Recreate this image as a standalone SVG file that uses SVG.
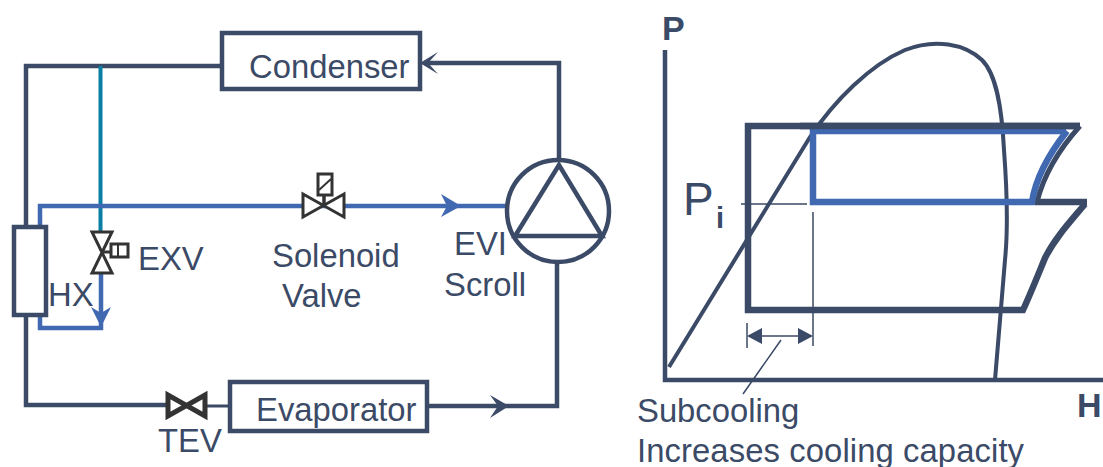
<svg xmlns="http://www.w3.org/2000/svg" width="1103" height="467" viewBox="0 0 1103 467">
<style>
text{font-family:"Liberation Sans",Arial,sans-serif;font-size:32.8px;fill:#3b4a66}
.b{font-weight:bold;font-size:34px}
.box{fill:#fff;stroke:#3b4a66;stroke-width:4.5}
.pipe{fill:none;stroke:#3b4a66;stroke-width:4.5}
.blue{fill:none;stroke:#4169b2;stroke-width:4.5}
.teal{fill:none;stroke:#0a7fa6;stroke-width:4}
.valve{fill:#fff;stroke:#333;stroke-width:3}
.thin{fill:none;stroke:#3b4a66;stroke-width:1.5}
.thick{fill:none;stroke:#3b4a66;stroke-width:6.500}
.bl6{fill:none;stroke:#4169b2;stroke-width:6.500}
.dome{fill:none;stroke:#3b4a66;stroke-width:4}
.hd{fill:#3b4a66}
.hb{fill:#4169b2}
</style>
<g id="connectors">
<path class="pipe" d="M222 66H26V405H168"/>
<path class="pipe" d="M205 406H230" style="stroke-width:3"/>
<path class="pipe" d="M427 406H557V262"/>
<path class="pipe" d="M559 165V63H424"/>
<path class="hd" d="M420 63L438 52L428 63L438 74Z"/>
<path class="hd" d="M509 406L490 395L498 406L490 418Z"/>
<path class="teal" d="M100.500 66V231"/>
<path class="blue" d="M506 206H40V226"/>
<path class="hb" d="M461 206L441 194L447 206L441 217Z"/>
<path class="blue" d="M40 314V328H101V273"/>
<path class="hb" d="M101 327L91 307L101 313L111 307Z"/>
</g>
<g id="condenser"><rect class="box" x="222" y="33" width="198" height="56"/><text x="249" y="78">Condenser</text></g>
<g id="evaporator"><rect class="box" x="230" y="382" width="197" height="49"/><text x="256" y="421">Evaporator</text></g>
<g id="tev"><path class="valve" style="stroke-width:5" d="M168 395V416L205 395V416Z"/><text x="158" y="452">TEV</text></g>
<g id="hx"><rect class="box" x="14" y="227" width="32" height="88"/><text x="48" y="306">HX</text></g>
<g id="exv"><path class="valve" d="M92 232H112L92 273H112Z"/><path class="pipe" style="stroke:#333;stroke-width:3" d="M102 252H111"/><rect class="valve" x="111" y="244" width="17" height="13"/><path class="pipe" style="stroke:#333;stroke-width:2" d="M118 245V256"/><text x="138" y="270">EXV</text></g>
<g id="solenoid"><path class="valve" d="M303 194V217L344 194V217Z"/><path class="pipe" style="stroke:#333;stroke-width:3.500" d="M324 194V205"/><rect class="valve" x="318" y="174" width="14" height="21"/><path class="pipe" style="stroke:#333;stroke-width:2" d="M319 190L331 179"/><text x="272" y="267">Solenoid</text><text x="282" y="307">Valve</text></g>
<g id="scroll"><circle cx="558" cy="211" r="51" fill="#fff" stroke="#3b4a66" stroke-width="4.500"/><path class="pipe" d="M559 165L515 236H602Z"/><text x="454" y="255">EVI</text><text x="444" y="296">Scroll</text></g>
<g id="chart">
<path class="dome" d="M669 367L810 137C835 100 870 65 905 50C935 38 965 44 982 60C997 75 1002 110 1004 150C1007 190 1008 230 1005 260L995 380"/>
<path class="thick" d="M1080 126H748V310H1023C1030 295 1038 275 1045 258C1055 238 1070 222 1085 204"/>
<path class="thick" style="stroke-width:5" d="M1080 126C1062 146 1045 170 1037 202"/>
<path class="thick" d="M1035 202H1087"/>
<path class="bl6" d="M1066 131H813V202H1032C1036 176 1052 150 1067 131"/>
<path class="thick" d="M800 126H1080"/>
<path class="pipe" d="M665 50V380H1103"/>
<path class="thin" d="M741 204H807M813 212V346M747 323V348M760 336H800M781 340L743 394"/>
<path class="hd" d="M747 336L762 328V344Z"/>
<path class="hd" d="M813 336L798 328V344Z"/>
<text class="b" x="662" y="40">P</text>
<text x="683" y="215" style="font-size:46px">P</text>
<text class="b" x="716" y="228" style="font-size:29px">i</text>
<text class="b" x="1077" y="417">H</text>
<text x="637" y="422">Subcooling</text>
<text x="637" y="462" textLength="387">Increases cooling capacity</text>
</g>
</svg>
